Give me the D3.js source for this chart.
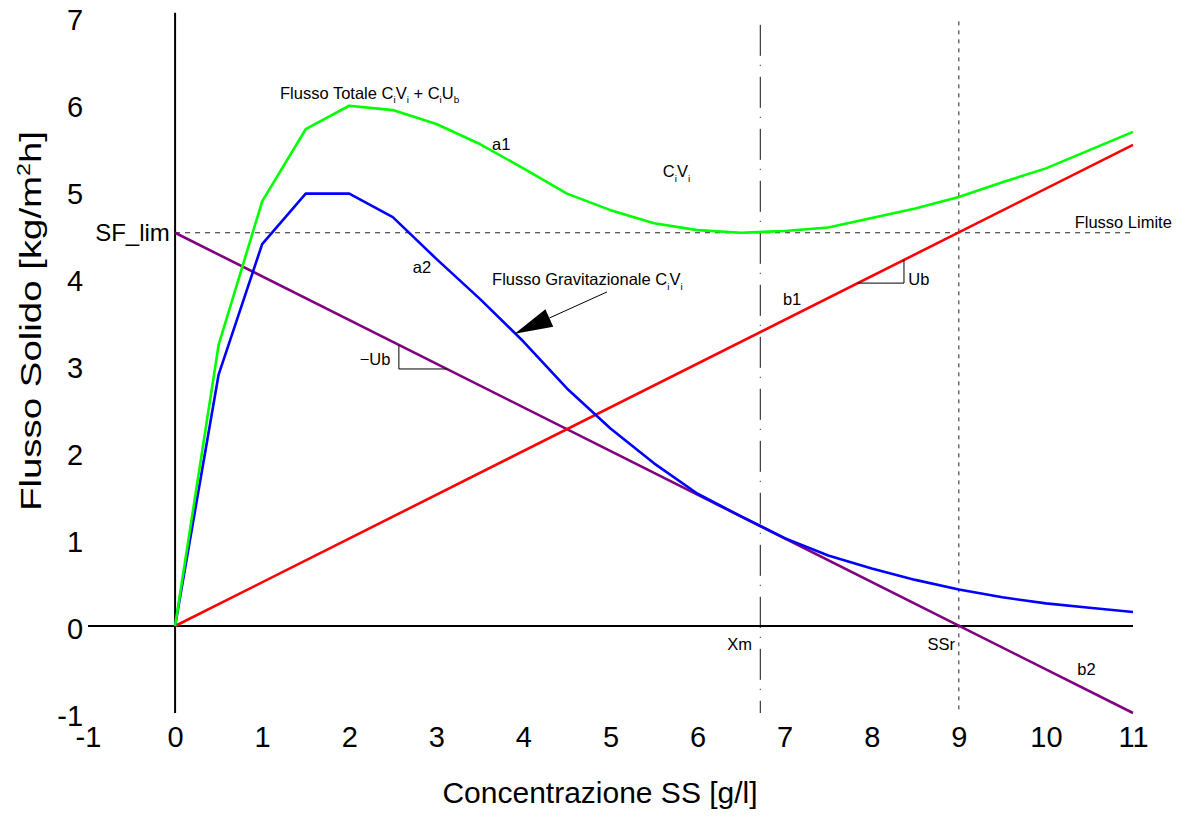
<!DOCTYPE html>
<html><head><meta charset="utf-8">
<script src="https://cdn.jsdelivr.net/npm/d3@7"></script>
<style>
body{margin:0;background:#fff}
text{font-family:"Liberation Sans",Arial,Helvetica,sans-serif;fill:#000}
</style>
</head><body>
<svg id="c" width="1186" height="822"></svg>
<script>
// ---- data ----
const concentration = [0,0.5,1,1.5,2,2.5,3,3.5,4,4.5,5,5.5,6,6.5,7,7.5,8,8.5,9,9.5,10,10.5,11];
const totalFlux = [0,3.23,4.88,5.71,5.98,5.93,5.77,5.54,5.26,4.97,4.78,4.63,4.55,4.52,4.54,4.58,4.69,4.80,4.93,5.10,5.26,5.47,5.68];
const gravFlux  = [0,2.89,4.39,4.97,4.97,4.70,4.22,3.76,3.27,2.73,2.27,1.87,1.52,1.26,1.01,0.81,0.66,0.53,0.42,0.33,0.26,0.21,0.16];
const lineB1X = [0,11];
const lineB1Y = [0,5.53];
const lineB2X = [0,11];
const lineB2Y = [4.52,-1];
const sfLim = 4.52;
const xm = 6.72;
const ssr = 9;
const xTicks = [-1,0,1,2,3,4,5,6,7,8,9,10,11];
const yTicks = [-1,0,1,2,3,4,5,6,7];

// ---- scales ----
const svg = d3.select("#c");
const x = d3.scaleLinear().domain([-1,11]).range([88,1133]);
const y = d3.scaleLinear().domain([-1,7]).range([713,17]);
const b1 = v => lineB1Y[0] + (lineB1Y[1]-lineB1Y[0])*(v-lineB1X[0])/(lineB1X[1]-lineB1X[0]);
const b2 = v => lineB2Y[0] + (lineB2Y[1]-lineB2Y[0])*(v-lineB2X[0])/(lineB2X[1]-lineB2X[0]);
const fmt = d => String(d);

// ---- axes (labels only) ----
const xAxis = svg.append("g").attr("transform",`translate(0,${y(-1)})`)
  .call(d3.axisBottom(x).tickValues(xTicks).tickSize(0).tickPadding(13).tickFormat(fmt));
xAxis.select(".domain").remove();
xAxis.selectAll("text").style("font-size","29px").attr("font-family",null);
const yAxis = svg.append("g").attr("transform",`translate(${x(0)},0)`)
  .call(d3.axisLeft(y).tickValues(yTicks).tickSize(0).tickPadding(92).tickFormat(fmt));
yAxis.select(".domain").remove();
yAxis.selectAll("text").style("font-size","29px").attr("font-family",null).attr("dy","0.42em");

// reference lines
svg.append("line").attr("x1",x(0)).attr("x2",x(11)).attr("y1",y(sfLim)).attr("y2",y(sfLim))
  .attr("stroke","#222").attr("stroke-width",1).attr("stroke-dasharray","5,5");
svg.append("line").attr("x1",x(xm)).attr("x2",x(xm)).attr("y1",y(6.91)).attr("y2",y(-1))
  .attr("stroke","#111").attr("stroke-width",1).attr("stroke-dasharray","31,9,1,11");
svg.append("line").attr("x1",x(ssr)).attr("x2",x(ssr)).attr("y1",y(6.95)).attr("y2",y(-1))
  .attr("stroke","#222").attr("stroke-width",1).attr("stroke-dasharray","4,5");

// main axis lines
svg.append("line").attr("x1",x(-1)).attr("x2",x(11)).attr("y1",y(0)).attr("y2",y(0))
  .attr("stroke","#000").attr("stroke-width",2);
svg.append("line").attr("x1",x(0)).attr("x2",x(0)).attr("y1",y(7.05)).attr("y2",y(-1))
  .attr("stroke","#000").attr("stroke-width",2);

// ---- series ----
const line = d3.line().x(d=>x(d[0])).y(d=>y(d[1]));
svg.append("path").datum(lineB2X.map((v,i)=>[v,lineB2Y[i]])).attr("d",line)
  .attr("fill","none").attr("stroke","#800080").attr("stroke-width",2.6);
svg.append("path").datum(lineB1X.map((v,i)=>[v,lineB1Y[i]])).attr("d",line)
  .attr("fill","none").attr("stroke","#ff0000").attr("stroke-width",2.6);
svg.append("path").datum(concentration.map((v,i)=>[v,gravFlux[i]])).attr("d",line)
  .attr("fill","none").attr("stroke","#0000ff").attr("stroke-width",2.6).attr("stroke-linejoin","round");
svg.append("path").datum(concentration.map((v,i)=>[v,totalFlux[i]])).attr("d",line)
  .attr("fill","none").attr("stroke","#00ff00").attr("stroke-width",2.6).attr("stroke-linejoin","round");

// slope triangles
svg.append("path").attr("d",`M${x(2.57)},${y(b2(2.57))}V${y(b2(3.12))}H${x(3.12)}`)
  .attr("fill","none").attr("stroke","#000").attr("stroke-width",1);
svg.append("path").attr("d",`M${x(7.84)},${y(b1(7.84))}H${x(8.37)}V${y(b1(8.37))}`)
  .attr("fill","none").attr("stroke","#000").attr("stroke-width",1);

// arrow
(function(){
  const x0=x(4.96), y0=y(3.84), x1=x(3.90), y1=y(3.36);
  const dx=x1-x0, dy=y1-y0, L=Math.hypot(dx,dy), ux=dx/L, uy=dy/L;
  const bx=x1-38*ux, by=y1-38*uy, hw=9.5;
  svg.append("line").attr("x1",x0).attr("y1",y0).attr("x2",bx).attr("y2",by).attr("stroke","#000").attr("stroke-width",1);
  svg.append("path").attr("d",`M${x1},${y1}L${bx-uy*hw},${by+ux*hw}L${bx+uy*hw},${by-ux*hw}Z`).attr("fill","#000");
})();

// ---- text helpers ----
function label(parts, xd, yd, size, anchor){
  const t = svg.append("text").attr("x",x(xd)).attr("y",y(yd)).style("font-size",size+"px")
    .attr("text-anchor",anchor||"start");
  let shift=0;
  parts.forEach(p=>{
    const isSub = p.startsWith("_"), isSup = p.startsWith("^");
    const s = (isSub||isSup)? p.slice(1) : p;
    let target = isSub? size*0.28 : isSup? -size*0.38 : 0;
    const ts = t.append("tspan").text(s).attr("dy",target-shift);
    if(isSub||isSup) ts.style("font-size",(size*0.6)+"px");
    shift=target;
  });
  return t;
}
const fs=16.5;
label(["Flusso Totale C","_i","V","_i"," + C","_i","U","_b"],1.205,6.06,fs);
label(["a1"],3.64,5.47,fs);
label(["C","_i","V","_i"],5.60,5.16,fs);
label(["a2"],2.73,4.06,fs);
label(["Flusso Gravitazionale C","_i","V","_i"],3.64,3.92,fs);
label(["\u2212Ub"],2.12,3.0,fs);
label(["b1"],6.98,3.69,fs);
label(["Ub"],8.42,3.92,fs);
label(["Flusso Limite"],10.33,4.575,fs);
label(["Xm"],6.34,-0.276,fs);
label(["SSr"],8.64,-0.276,fs);
label(["b2"],10.36,-0.563,fs);
svg.append("text").attr("x",x(-0.06)).attr("y",y(sfLim)).attr("dy","0.36em").attr("text-anchor","end")
  .style("font-size","24px").text("SF_lim");

// axis titles
svg.append("text").attr("x",600).attr("y",803).attr("text-anchor","middle")
  .style("font-size","30px").text("Concentrazione SS [g/l]");
const yt = svg.append("text").attr("transform",`translate(41,${(y(-1)+y(7))/2-44}) rotate(-90)`)
  .attr("text-anchor","middle").style("font-size","30px")
  .attr("textLength",380).attr("lengthAdjust","spacingAndGlyphs");
yt.append("tspan").text("Flusso Solido [kg/m");
yt.append("tspan").text("2").attr("dy",-11).style("font-size","18px");
yt.append("tspan").text("h]").attr("dy",11);
</script>
</body></html>
